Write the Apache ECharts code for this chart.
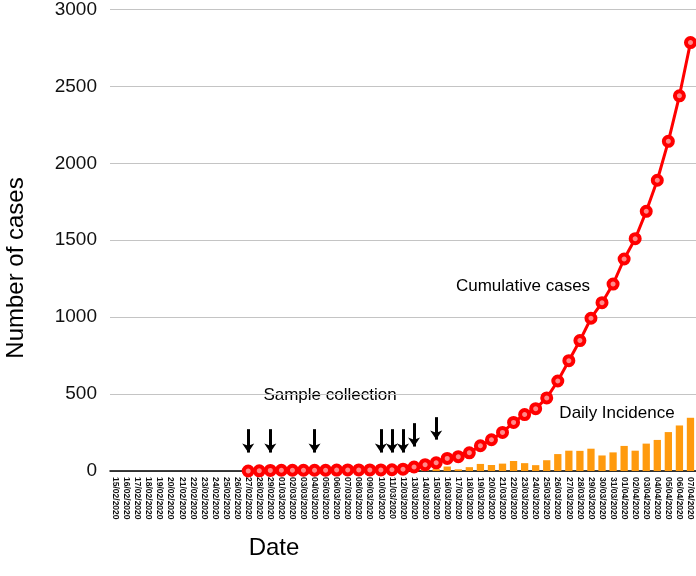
<!DOCTYPE html>
<html><head><meta charset="utf-8">
<script src="https://cdn.jsdelivr.net/npm/echarts@6/dist/echarts.min.js"></script>
<style>html,body{margin:0;padding:0;background:#fff}#c{width:696px;height:576px}</style>
</head><body><div id="c"></div>
<script>
const dates = [
 '15/02/2020','16/02/2020','17/02/2020','18/02/2020','19/02/2020','20/02/2020','21/02/2020','22/02/2020','23/02/2020','24/02/2020','25/02/2020','26/02/2020','27/02/2020','28/02/2020','29/02/2020',
 '01/03/2020','02/03/2020','03/03/2020','04/03/2020','05/03/2020','06/03/2020','07/03/2020','08/03/2020','09/03/2020','10/03/2020','11/03/2020','12/03/2020','13/03/2020','14/03/2020','15/03/2020','16/03/2020',
 '17/03/2020','18/03/2020','19/03/2020','20/03/2020','21/03/2020','22/03/2020','23/03/2020','24/03/2020','25/03/2020','26/03/2020','27/03/2020','28/03/2020','29/03/2020','30/03/2020','31/03/2020',
 '01/04/2020','02/04/2020','03/04/2020','04/04/2020','05/04/2020','06/04/2020','07/04/2020'
];
const cumulativeCases = [
 null,null,null,null,null,null,null,null,null,null,null,null,
 0,1,4,
 5,5,5,5,5,6,7,7,7,7,8,12,26,41,53,82,93,118,164,203,251,316,367,405,475,585,717,848,993,1094,1215,
 1378,1510,1688,1890,2143,2439,2785
];
const dailyIncidence = [
 0,0,0,0,0,0,0,0,0,0,0,0,0,1,3,
 1,0,0,0,0,1,1,0,0,0,1,4,14,15,12,29,11,25,46,39,48,65,51,38,70,110,132,131,145,101,121,
 163,132,178,202,253,296,346
];
const arrowDates = ['27/02/2020','29/02/2020','04/03/2020','10/03/2020','11/03/2020','12/03/2020','13/03/2020','15/03/2020'];
const arrowTop = [272,272,272,272,272,272,311,350];
const arrowEnd = [120,120,120,120,120,120,159,204];

const chart = echarts.init(document.getElementById('c'), null, {renderer:'canvas'});
const FONT = '"Liberation Sans", Arial, sans-serif';
chart.setOption({
  animation:false,
  backgroundColor:'#fff',
  grid:{left:110, right:0, top:7, bottom:105, containLabel:false},
  xAxis:{
    type:'category', data:dates, boundaryGap:true,
    axisLine:{show:true, lineStyle:{color:'#000', width:1.5}},
    axisTick:{show:false},
    splitLine:{show:false},
    axisLabel:{interval:0, rotate:-90, fontSize:8.5, fontWeight:'bold', color:'#111', margin:6, fontFamily:FONT}
  },
  yAxis:{
    type:'value', min:0, max:3000, interval:500,
    axisLine:{show:false}, axisTick:{show:false},
    splitLine:{lineStyle:{color:'#c4c4c4', width:1}},
    axisLabel:{fontSize:19, color:'#111', margin:13, fontFamily:FONT, formatter:(v)=>String(v)}
  },
  series:[
    {
      type:'bar', data:dailyIncidence, barWidth:'66%', z:1,
      itemStyle:{color:'#ff9a0e'},
      markLine:{
        silent:true, symbol:['none','arrow'], symbolSize:9,
        label:{show:false},
        lineStyle:{color:'#000', width:3, type:'solid'},
        emphasis:{disabled:true},
        data: arrowDates.map((d,i)=>[{coord:[d, arrowTop[i]]},{coord:[d, arrowEnd[i]]}])
      }
    },
    {
      type:'line', data:cumulativeCases, z:3,
      lineStyle:{color:'#ff0000', width:3},
      symbol:'circle', symbolSize:9, showSymbol:true,
      itemStyle:{color:'#ff8a8a', borderColor:'#ff0000', borderWidth:4}
    }
  ],
  graphic:[
    {type:'text', x:16, y:268, rotation:Math.PI/2, style:{text:'Number of cases', font:'24px '+FONT, fill:'#000', align:'center', verticalAlign:'middle', textAlign:'center', textVerticalAlign:'middle'}},
    {type:'text', x:274, y:548, style:{text:'Date', font:'24px '+FONT, fill:'#000', align:'center', verticalAlign:'middle', textAlign:'center', textVerticalAlign:'middle'}},
    {type:'text', x:330, y:395, style:{text:'Sample collection', font:'17px '+FONT, fill:'#000', align:'center', verticalAlign:'middle', textAlign:'center', textVerticalAlign:'middle'}},
    {type:'text', x:523, y:286, style:{text:'Cumulative cases', font:'17px '+FONT, fill:'#000', align:'center', verticalAlign:'middle', textAlign:'center', textVerticalAlign:'middle'}},
    {type:'text', x:617, y:413, style:{text:'Daily Incidence', font:'17px '+FONT, fill:'#000', align:'center', verticalAlign:'middle', textAlign:'center', textVerticalAlign:'middle'}}
  ]
});
</script></body></html>
